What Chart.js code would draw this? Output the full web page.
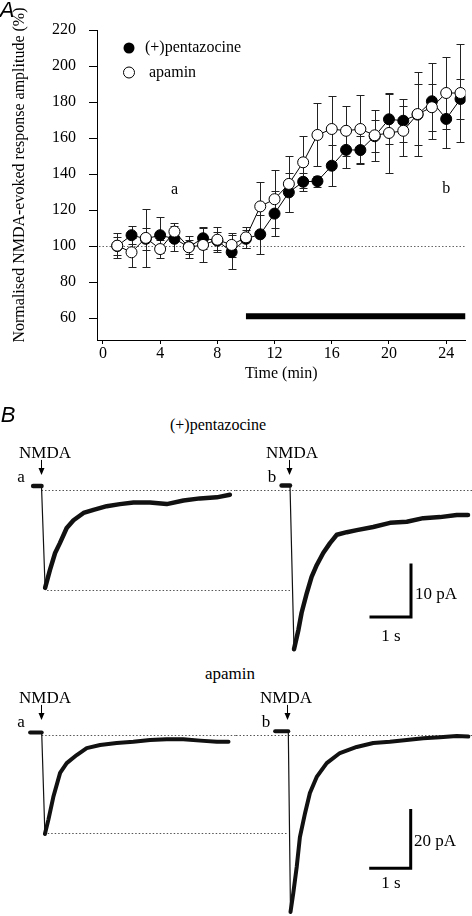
<!DOCTYPE html>
<html>
<head>
<meta charset="utf-8">
<script src="https://cdn.jsdelivr.net/npm/chart.js@4.4.0/dist/chart.umd.min.js"></script>
<style>
  body { margin: 0; background: #fff; }
  #fig { position: relative; width: 472px; height: 916px; overflow: hidden; font-family: "Liberation Serif", serif; }
  canvas { position: absolute; }
  .lab { position: absolute; font-size: 17px; line-height: 1; color: #000; white-space: nowrap; transform: translate(-50%, -50%); }
  .left { transform: translate(0, -50%); }
  .panel { font-family: "Liberation Sans", Arial, sans-serif; font-style: italic; font-size: 22px; }
</style>
</head>
<body>
<div id="fig">
  <canvas id="chartA" width="472" height="387" style="left:0;top:0;width:472px;height:387px"></canvas>
  <canvas id="topA" width="236" height="220" style="left:0;top:440px;width:236px;height:220px"></canvas>
  <canvas id="topB" width="236" height="220" style="left:236px;top:440px;width:236px;height:220px"></canvas>
  <canvas id="botA" width="236" height="226" style="left:0;top:690px;width:236px;height:226px"></canvas>
  <canvas id="botB" width="236" height="226" style="left:236px;top:690px;width:236px;height:226px"></canvas>

  <div class="lab panel" style="left:7px;top:10px">A</div>
  <div class="lab panel" style="left:8px;top:415px">B</div>
  <div class="lab" style="left:218px;top:425px;font-size:16px">(+)pentazocine</div>
  <div class="lab" style="left:45px;top:452px">NMDA</div>
  <div class="lab" style="left:292px;top:452px">NMDA</div>
  <div class="lab" style="left:21px;top:476px">a</div>
  <div class="lab" style="left:272px;top:476px">b</div>
  <div class="lab left" style="left:415px;top:593px">10 pA</div>
  <div class="lab" style="left:391px;top:635px">1 s</div>
  <div class="lab" style="left:230px;top:673px">apamin</div>
  <div class="lab" style="left:45px;top:697px">NMDA</div>
  <div class="lab" style="left:286px;top:697px">NMDA</div>
  <div class="lab" style="left:21px;top:721px">a</div>
  <div class="lab" style="left:266px;top:721px">b</div>
  <div class="lab left" style="left:414px;top:840px">20 pA</div>
  <div class="lab" style="left:391px;top:882px">1 s</div>
</div>

<script>
// Panel A: tiempo (min) y amplitud normalizada (%)
const minutes = [1, 2, 3, 4, 5, 6, 7, 8, 9, 10, 11, 12, 13, 14, 15, 16, 17, 18, 19, 20, 21, 22, 23, 24, 25];
const pentazocine    = [100, 106, 104, 106, 104, 99.5, 104.3, 103, 96.6, 104, 106.5, 118, 129.8, 135.7, 136, 144.6, 153.4, 153.3, 161, 170.4, 169.6, 173, 180.4, 170.6, 181.7];
const pentazocineErr = [5, 5, 6, 10, 7, 4, 6, 5, 9.5, 5, 11, 12.7, 11, 5, 3, 11.5, 10, 8, 9, 14, 12, 17, 21, 16, 11];
const apamin         = [100.2, 96.5, 104.5, 98.3, 108, 99.3, 100.6, 103.5, 100.6, 104.8, 122, 126, 134.5, 146.5, 161.7, 165, 164, 165, 161.5, 162.8, 164, 173.3, 177.1, 185, 185];
const apaminErr      = [7, 8, 16, 5, 5, 6, 9.6, 7, 6.6, 6, 13.4, 16, 15.6, 14.4, 17.5, 18.5, 14, 19, 14, 22, 14, 23.5, 13, 20, 27];
const xTicks = [0, 4, 8, 12, 16, 20, 24];
const yTicks = [60, 80, 100, 120, 140, 160, 180, 200, 220];
const drugTime = [10, 25.35];   // barra de aplicación
const drugLevel = 61;
const refLevel = 100;

// Panel B: trazos (s, pA)
const topA_t = [-0.21, 0, 0.09, 0.21, 0.34, 0.46, 0.63, 0.8, 1.05, 1.3, 1.63, 1.96, 2.3, 2.71, 3.13, 3.55, 3.96, 4.38, 4.71];
const topA_i = [0.4, 0.4, -19.2, -15.8, -12.5, -10.6, -7.7, -6.2, -4.8, -4.2, -3.5, -3.1, -2.8, -2.8, -3.1, -2.4, -2.0, -1.8, -1.3];
const topB_t = [-0.21, 0, 0.1, 0.21, 0.29, 0.42, 0.54, 0.67, 0.83, 1.0, 1.17, 1.42, 1.67, 2.08, 2.5, 2.92, 3.33, 3.75, 4.17, 4.45];
const topB_i = [0.5, 0.5, -31, -27.3, -24, -20.2, -17.1, -14.8, -12.5, -10.6, -9.0, -8.5, -8.1, -7.5, -6.7, -6.5, -5.8, -5.6, -5.2, -5.2];
const botA_t = [-0.29, 0, 0.08, 0.165, 0.29, 0.46, 0.625, 0.875, 1.125, 1.46, 1.875, 2.29, 2.71, 3.125, 3.54, 3.96, 4.38, 4.67];
const botA_i = [0.5, 0.5, -34.7, -29.9, -21.9, -13.5, -10.1, -7.3, -4.9, -3.8, -3.1, -2.7, -2.1, -1.8, -1.8, -2.3, -2.7, -2.7];
const botB_t = [-0.33, 0, 0.055, 0.125, 0.21, 0.29, 0.42, 0.54, 0.71, 0.96, 1.29, 1.71, 2.125, 2.54, 2.96, 3.375, 3.79, 4.21, 4.5];
const botB_i = [1, 1, -61.8, -55.2, -46.2, -35.8, -27.4, -20.5, -14.9, -10.1, -6.6, -4.5, -3.1, -2.7, -2.1, -1.5, -1.1, -0.7, -0.9];
const scaleTop_t = [2.025, 3.025, 3.025];
const scaleTop_i = [-24.8, -24.8, -14.8];
const scaleBot_t = [2.06, 3.06, 3.06];
const scaleBot_i = [-46.6, -46.6, -26.6];

Chart.defaults.font.family = "'Liberation Serif', serif";
Chart.defaults.color = '#000';

const serif = "'Liberation Serif', serif";

// barras de error, línea de referencia y leyenda
const panelAPlugin = {
    id: 'panelA',
    beforeDatasetsDraw(chart) {
        const { ctx, chartArea, scales: { x, y } } = chart;
        ctx.save();
        // línea punteada en 100 %
        ctx.strokeStyle = '#666';
        ctx.lineWidth = 1;
        ctx.setLineDash([1.5, 2]);
        const yr = Math.round(y.getPixelForValue(refLevel)) + 0.5;
        ctx.beginPath();
        ctx.moveTo(chartArea.left + 2, yr);
        ctx.lineTo(chartArea.right, yr);
        ctx.stroke();
        ctx.setLineDash([]);

        ctx.strokeStyle = '#222';
        [[pentazocine, pentazocineErr], [apamin, apaminErr]].forEach(function(pair) {
            const vals = pair[0], errs = pair[1];
            vals.forEach(function(v, i) {
                const px = Math.round(x.getPixelForValue(minutes[i])) + 0.5;
                const y0 = Math.round(y.getPixelForValue(v - errs[i])) + 0.5;
                const y1 = Math.round(y.getPixelForValue(v + errs[i])) + 0.5;
                ctx.beginPath();
                ctx.moveTo(px, y0); ctx.lineTo(px, y1);
                ctx.moveTo(px - 4, y0); ctx.lineTo(px + 4, y0);
                ctx.moveTo(px - 4, y1); ctx.lineTo(px + 4, y1);
                ctx.stroke();
            });
        });
        ctx.restore();
    },
    afterDraw(chart) {
        const { ctx, scales: { x, y } } = chart;
        ctx.save();
        ctx.fillStyle = '#000';
        ctx.font = '16px ' + serif;
        ctx.textBaseline = 'middle';

        // leyenda
        ctx.beginPath();
        ctx.arc(129, 48, 5.5, 0, Math.PI * 2);
        ctx.fill();
        ctx.fillText('(+)pentazocine', 145, 48);
        ctx.beginPath();
        ctx.arc(129, 72.5, 5.5, 0, Math.PI * 2);
        ctx.fillStyle = '#fff';
        ctx.fill();
        ctx.strokeStyle = '#000';
        ctx.lineWidth = 1;
        ctx.stroke();
        ctx.fillStyle = '#000';
        ctx.fillText('apamin', 149, 72.5);

        // etiquetas a / b
        ctx.textAlign = 'center';
        ctx.fillText('a', x.getPixelForValue(5), y.getPixelForValue(131));
        ctx.fillText('b', x.getPixelForValue(24), y.getPixelForValue(132));

        // título del eje y
        ctx.translate(20, 175);
        ctx.rotate(-Math.PI / 2);
        ctx.fillText('Normalised NMDA-evoked response amplitude (%)', 0, 0);
        ctx.restore();
    }
};

const axisStyle = {
    border: { display: true, color: '#000', width: 1 },
    grid: { display: true, drawOnChartArea: false, drawTicks: true, color: '#000' }
};

new Chart(document.getElementById('chartA'), {
    type: 'line',
    data: {
        datasets: [
            {
                label: 'apamin',
                data: minutes.map((t, i) => ({ x: t, y: apamin[i] })),
                borderColor: '#000', borderWidth: 1,
                pointRadius: 5.5, pointBackgroundColor: '#fff', pointBorderColor: '#000', pointBorderWidth: 1,
                order: 0
            },
            {
                label: '(+)pentazocine',
                data: minutes.map((t, i) => ({ x: t, y: pentazocine[i] })),
                borderColor: '#000', borderWidth: 1,
                pointRadius: 5.5, pointBackgroundColor: '#000', pointBorderColor: '#000', pointBorderWidth: 1,
                order: 1
            },
            {
                label: 'drug',
                data: drugTime.map(t => ({ x: t, y: drugLevel })),
                borderColor: '#000', borderWidth: 6, borderCapStyle: 'butt',
                pointRadius: 0, order: 2
            }
        ]
    },
    options: {
        responsive: false, animation: false, events: [],
        layout: { padding: { top: 30, right: 2, left: 0, bottom: 0 } },
        plugins: { legend: { display: false }, tooltip: { enabled: false } },
        scales: {
            x: {
                type: 'linear', min: -0.414, max: 25.35,
                ...axisStyle,
                grid: { ...axisStyle.grid, tickLength: 4 },
                ticks: { font: { size: 16, family: serif }, padding: 0, maxRotation: 0 },
                afterBuildTicks: s => { s.ticks = xTicks.map(v => ({ value: v })); },
                afterFit: s => { s.height = 47; },
                title: { display: true, text: 'Time (min)', font: { size: 16, family: serif }, padding: 4 }
            },
            y: {
                type: 'linear', min: 47.78, max: 220,
                ...axisStyle,
                grid: { ...axisStyle.grid, tickLength: 8 },
                ticks: { font: { size: 16, family: serif }, padding: 13 },
                afterBuildTicks: s => { s.ticks = yTicks.map(v => ({ value: v })); },
                afterFit: s => { s.width = 97; }
            }
        }
    },
    plugins: [panelAPlugin]
});

// Panel B: cada trazo en su propio gráfico
function tracePlugin(cfg) {
    return {
        id: 'traceExtras',
        beforeDatasetsDraw(chart) {
            const { ctx, width, scales: { x, y } } = chart;
            ctx.save();
            ctx.strokeStyle = '#555';
            ctx.lineWidth = 1;
            ctx.setLineDash([1.5, 2]);
            cfg.dotted.forEach(function(d) {
                const yy = Math.round(y.getPixelForValue(d.i)) + 0.5;
                const x0 = d.from === null ? 0 : x.getPixelForValue(d.from);
                const x1 = d.to === null ? width : x.getPixelForValue(d.to);
                ctx.beginPath();
                ctx.moveTo(x0, yy);
                ctx.lineTo(x1, yy);
                ctx.stroke();
            });
            ctx.restore();
        },
        afterDraw(chart) {
            const { ctx, scales: { x, y } } = chart;
            // flecha NMDA
            const ax = Math.round(x.getPixelForValue(cfg.arrow.t)) + 0.5;
            const ay0 = y.getPixelForValue(cfg.arrow.from);
            const ay1 = y.getPixelForValue(cfg.arrow.to);
            ctx.save();
            ctx.strokeStyle = '#000';
            ctx.fillStyle = '#000';
            ctx.lineWidth = 1;
            ctx.beginPath();
            ctx.moveTo(ax, ay0);
            ctx.lineTo(ax, ay1 - 5);
            ctx.stroke();
            ctx.beginPath();
            ctx.moveTo(ax - 3, ay1 - 7);
            ctx.lineTo(ax + 3, ay1 - 7);
            ctx.lineTo(ax, ay1);
            ctx.closePath();
            ctx.fill();
            ctx.restore();
        }
    };
}

function makeTrace(id, ts, is, opts) {
    const datasets = [{
        data: ts.map((t, k) => ({ x: t, y: is[k] })),
        borderColor: '#111',
        borderWidth: opts.thick,
        borderJoinStyle: 'round',
        borderCapStyle: 'round',
        pointRadius: 0,
        clip: false,
        segment: { borderWidth: c => (c.p0DataIndex === 1 ? 1.2 : opts.thick) }
    }];
    if (opts.bar) {
        datasets.push({
            data: opts.bar.t.map((t, k) => ({ x: t, y: opts.bar.i[k] })),
            borderColor: '#000', borderWidth: 3, borderCapStyle: 'square', borderJoinStyle: 'miter',
            pointRadius: 0, clip: false
        });
    }
    new Chart(document.getElementById(id), {
        type: 'line',
        data: { datasets: datasets },
        options: {
            responsive: false, animation: false, events: [],
            layout: { padding: 0 },
            plugins: { legend: { display: false }, tooltip: { enabled: false } },
            scales: {
                x: { type: 'linear', display: false, min: opts.xmin, max: opts.xmin + opts.xspan },
                y: { type: 'linear', display: false, min: opts.ymin, max: opts.ymax }
            }
        },
        plugins: [tracePlugin(opts)]
    });
}

// arriba: 40 px/s, 5.2 px/pA
makeTrace('topA', topA_t, topA_i, {
    xmin: -1.0375, xspan: 5.9, ymin: -33.08, ymax: 9.23, thick: 4.5,
    dotted: [{ i: -0.4, from: 0, to: null }, { i: -19.6, from: 0.14, to: null }],
    arrow: { t: -0.01, from: 5.4, to: 2.5 }
});
makeTrace('topB', topB_t, topB_i, {
    xmin: -1.35, xspan: 5.9, ymin: -33.08, ymax: 9.23, thick: 4.5,
    dotted: [{ i: -0.4, from: null, to: null }, { i: -19.6, from: null, to: 0 }],
    arrow: { t: -0.02, from: 5.4, to: 2.5 },
    bar: { t: scaleTop_t, i: scaleTop_i }
});
// abajo: 40 px/s, 2.88 px/pA
makeTrace('botA', botA_t, botA_i, {
    xmin: -1.0425, xspan: 5.9, ymin: -63.19, ymax: 15.28, thick: 4,
    dotted: [{ i: -0.35, from: 0, to: null }, { i: -34.4, from: 0.15, to: null }],
    arrow: { t: -0.02, from: 10.1, to: 4.9 }
});
makeTrace('botB', botB_t, botB_i, {
    xmin: -1.3075, xspan: 5.9, ymin: -63.19, ymax: 15.28, thick: 4,
    dotted: [{ i: -0.35, from: null, to: null }, { i: -34.4, from: null, to: 0 }],
    arrow: { t: -0.04, from: 10.1, to: 4.9 },
    bar: { t: scaleBot_t, i: scaleBot_i }
});
</script>
</body>
</html>
